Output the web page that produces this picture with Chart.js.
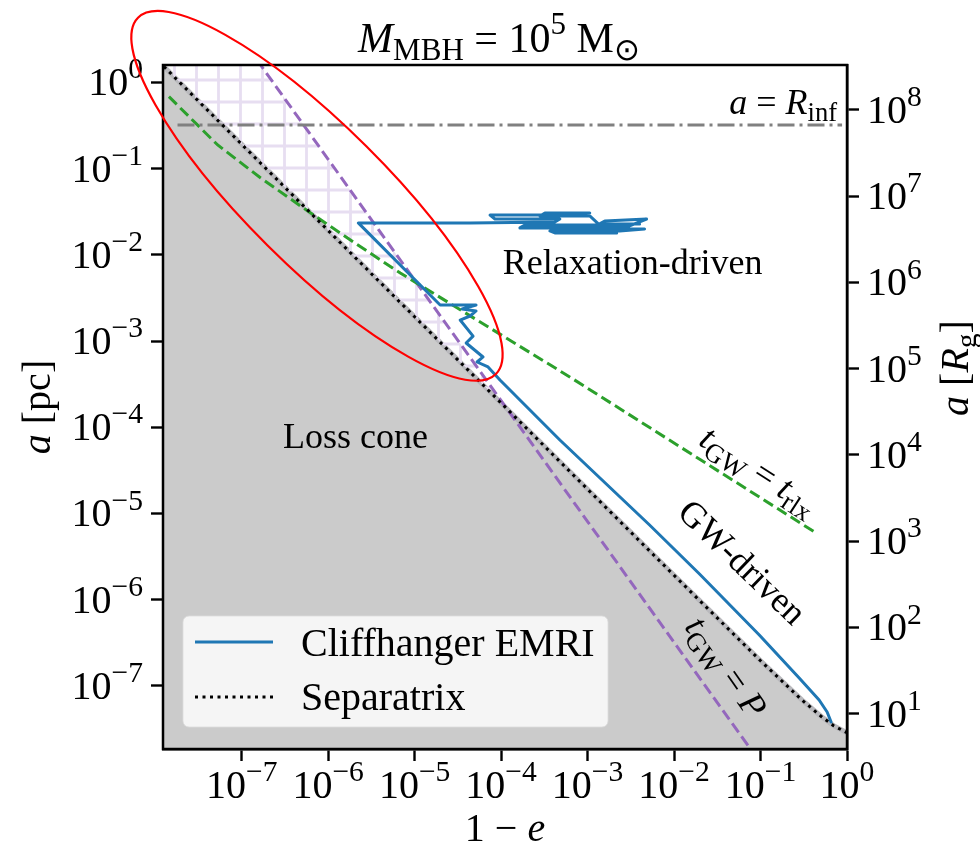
<!DOCTYPE html>
<html>
<head>
<meta charset="utf-8">
<script src="https://cdn.jsdelivr.net/npm/chart.js@4.4.1/dist/chart.umd.min.js"></script>
<style>
html, body { margin: 0; padding: 0; background: #fff; }
</style>
</head>
<body>
<canvas id="myChart" width="980" height="850"></canvas>
<script>
// ---- data (x = 1-e, y = a in pc) ----
const sepE = [1.26e-8, 1e-7, 1e-6, 1e-5, 1e-4, 1e-3, 1e-2, 0.1, 0.3, 0.5, 0.7, 1.0];
const sepA = [1.52, 0.191, 0.0191, 1.91e-3, 1.91e-4, 1.91e-5, 1.92e-6, 1.96e-7, 6.9e-8, 4.46e-8, 3.46e-8, 2.87e-8];

const tgwPE = [1.26e-8, 1e-7, 1e-6, 1e-5, 1e-4, 1e-3, 1e-2, 0.1];
const tgwPA = [58.5, 3.21, 0.128, 5.09e-3, 2.03e-4, 8.07e-6, 3.21e-7, 1.28e-8];

const tgwRE = [1.44e-8, 5.28e-8, 1.66e-7, 4.79e-7, 1.81e-6, 6.82e-6, 6.22e-4, 0.44];
const tgwRA = [0.681, 0.1875, 0.0777, 0.0368, 0.0148, 6.15e-3, 3.83e-4, 5.94e-6];

const rinfE = [1.81e-8, 0.877];
const rinfA = [0.32, 0.32];

const emriE = [4.00e-3, 1.38e-3, 1.58e-3, 4.81e-3, 3.06e-3, 4.78e-4, 5.46e-4, 4.56e-3, 2.35e-3, 3.66e-4,
               4.18e-4, 2.17e-3, 1.06e-3, 1.65e-4, 1.88e-4, 1.38e-3, 1.06e-3, 2.81e-4, 3.21e-4, 1.06e-3,
               4.78e-4, 7.45e-5, 8.49e-5, 4.78e-4, 4.18e-4, 4.38e-5, 2.23e-6, 1.97e-5,
               5.13e-5, 3.54e-5, 5.13e-5, 4.38e-5, 3.36e-5, 4.74e-5, 3.94e-5, 6.18e-5, 5.27e-5, 7.06e-5,
               9.70e-5, 4.78e-4, 5.21e-3, 0.0197, 0.0968, 0.280, 0.476, 0.589, 0.655];
const emriA = [0.0228, 0.0228, 0.0246, 0.0260, 0.0216, 0.0216, 0.0199, 0.0199, 0.0189, 0.0189,
               0.0179, 0.0179, 0.0205, 0.0205, 0.0221, 0.0221, 0.0282, 0.0282, 0.0305, 0.0305,
               0.0289, 0.0289, 0.0260, 0.0260, 0.0240, 0.0234, 0.0234, 2.62e-3,
               2.62e-3, 2.35e-3, 2.23e-3, 1.95e-3, 1.75e-3, 1.14e-3, 9.48e-4, 6.53e-4, 5.71e-4, 5.00e-4,
               3.53e-4, 7.11e-5, 7.36e-6, 1.99e-6, 3.90e-7, 1.24e-7, 6.88e-8, 4.99e-8, 3.82e-8];

const xTicks = [1e-7, 1e-6, 1e-5, 1e-4, 1e-3, 1e-2, 1e-1, 1e0];
const xTickExp = ['−7', '−6', '−5', '−4', '−3', '−2', '−1', '0'];
const yTicks = [1e-7, 1e-6, 1e-5, 1e-4, 1e-3, 1e-2, 1e-1, 1e0];
const yTickExp = ['−7', '−6', '−5', '−4', '−3', '−2', '−1', '0'];
const y2Ticks = [1e1, 1e2, 1e3, 1e4, 1e5, 1e6, 1e7, 1e8];
const y2TickExp = ['1', '2', '3', '4', '5', '6', '7', '8'];

const xMin = 1.23e-8, xMax = 1.0;
const yMin = 1.858e-8, yMax = 1.587;
const pcToRg = 2.094e8;

// ---- helpers ----
const FONT = '"Liberation Serif", "Times New Roman", serif';
const SMALL = 0.74;
function font(size, it) { return (it ? 'italic ' : '') + size + 'px ' + FONT; }
function partsWidth(c, parts, size) {
    let w = 0;
    parts.forEach(p => {
        c.font = font((p.sub || p.sup) ? size * SMALL : size, p.it);
        w += c.measureText(p.t).width;
    });
    return w;
}
function drawParts(c, parts, size, x, y, align) {
    const w = partsWidth(c, parts, size);
    let cx = align === 'center' ? x - w / 2 : (align === 'right' ? x - w : x);
    c.textAlign = 'left';
    c.textBaseline = 'alphabetic';
    parts.forEach(p => {
        const s = (p.sub || p.sup) ? size * SMALL : size;
        const dy = p.sub ? size * 0.2 : (p.sup ? -size * 0.42 : 0);
        c.font = font(s, p.it);
        c.fillText(p.t, cx, y + dy);
        cx += c.measureText(p.t).width;
    });
}

// hatch pattern for the region between separatrix and t_GW = P
const tile = document.createElement('canvas');
tile.width = 22; tile.height = 22;
const tc = tile.getContext('2d');
tc.strokeStyle = 'rgb(231,222,241)';
tc.lineWidth = 2.8;
tc.beginPath();
tc.moveTo(20.5, 0); tc.lineTo(20.5, 22);
tc.moveTo(0, 14); tc.lineTo(22, 14);
tc.stroke();
const hatch = tc.createPattern(tile, 'repeat');

const notes = [
    {x: 3.32e-3, y: 8.25e-3, rot: 0, align: 'center', parts: [{t: 'Relaxation-driven'}]},
    {x: 2.07e-6, y: 7.94e-5, rot: 0, align: 'center', parts: [{t: 'Loss cone'}]},
    {x: 0.77, y: 0.591, rot: 0, align: 'right', parts: [{t: 'a', it: 1}, {t: ' = '}, {t: 'R', it: 1}, {t: 'inf', sub: 1}]},
    {x: 0.0968, y: 3.19e-5, rot: 33, align: 'center', parts: [{t: 't', it: 1}, {t: 'GW', sub: 1}, {t: ' = '}, {t: 't', it: 1}, {t: 'rlx', sub: 1}]},
    {x: 0.062, y: 2.74e-6, rot: 44, align: 'center', parts: [{t: 'GW-driven'}]},
    {x: 0.0403, y: 1.66e-7, rot: 55, align: 'center', parts: [{t: 't', it: 1}, {t: 'GW', sub: 1}, {t: ' = '}, {t: 'P', it: 1}]}
];

// highlight ellipse: major-axis tips in data coords
const ringE = [6.32e-9, 8.71e-5];
const ringA = [5.6, 4.15e-4];

const pts = (xs, ys) => xs.map((v, i) => ({x: v, y: ys[i]}));

const decor = {
    id: 'decor',
    afterDraw(chart) {
        const c = chart.ctx;
        const ca = chart.chartArea;
        const sx = chart.scales.x, sy = chart.scales.y, sy2 = chart.scales.y2;
        c.save();
        c.fillStyle = '#000';

        // frame
        c.strokeStyle = '#000';
        c.lineWidth = 2.5;
        c.strokeRect(ca.left, ca.top, ca.right - ca.left, ca.bottom - ca.top);

        // tick labels
        xTicks.forEach((v, i) => {
            drawParts(c, [{t: '10'}, {t: xTickExp[i], sup: 1}], 40, sx.getPixelForValue(v), ca.bottom + 49, 'center');
        });
        yTicks.forEach((v, i) => {
            drawParts(c, [{t: '10'}, {t: yTickExp[i], sup: 1}], 40, ca.left - 20, sy.getPixelForValue(v) + 13, 'right');
        });
        y2Ticks.forEach((v, i) => {
            drawParts(c, [{t: '10'}, {t: y2TickExp[i], sup: 1}], 40, ca.right + 20, sy2.getPixelForValue(v) + 13, 'left');
        });

        // axis labels
        drawParts(c, [{t: '1 − '}, {t: 'e', it: 1}], 40, (ca.left + ca.right) / 2, ca.bottom + 92, 'center');
        c.save();
        c.translate(50, (ca.top + ca.bottom) / 2);
        c.rotate(-Math.PI / 2);
        drawParts(c, [{t: 'a', it: 1}, {t: ' [pc]'}], 40, 0, 0, 'center');
        c.restore();
        c.save();
        c.translate(968, 368);
        c.rotate(-Math.PI / 2);
        drawParts(c, [{t: 'a', it: 1}, {t: ' ['}, {t: 'R', it: 1}, {t: 'g', sub: 1}, {t: ']'}], 40, 0, 0, 'center');
        c.restore();

        // title
        drawParts(c, [{t: 'M', it: 1}, {t: 'MBH', sub: 1}, {t: ' = 10'}, {t: '5', sup: 1}, {t: ' M'}, {t: '⊙', sub: 1}],
            42, 499, 52, 'center');

        // in-plot annotations
        notes.forEach(n => {
            c.save();
            c.translate(sx.getPixelForValue(n.x), sy.getPixelForValue(n.y));
            c.rotate(n.rot * Math.PI / 180);
            drawParts(c, n.parts, 36, 0, 12, n.align);
            c.restore();
        });

        // legend
        const lx = ca.left + 20, ly = ca.bottom - 133, lw = 425, lh = 111;
        c.fillStyle = 'rgba(255,255,255,0.8)';
        c.strokeStyle = 'rgba(220,220,220,0.8)';
        c.lineWidth = 1;
        c.beginPath();
        c.roundRect(lx, ly, lw, lh, 6);
        c.fill();
        c.stroke();
        c.strokeStyle = '#1f77b4';
        c.lineWidth = 3;
        c.beginPath();
        c.moveTo(lx + 12, ly + 26); c.lineTo(lx + 90, ly + 26);
        c.stroke();
        c.strokeStyle = '#000';
        c.setLineDash([3, 4.5]);
        c.beginPath();
        c.moveTo(lx + 12, ly + 81); c.lineTo(lx + 90, ly + 81);
        c.stroke();
        c.setLineDash([]);
        c.fillStyle = '#000';
        drawParts(c, [{t: 'Cliffhanger EMRI'}], 40, lx + 118, ly + 40, 'left');
        drawParts(c, [{t: 'Separatrix'}], 40, lx + 118, ly + 94, 'left');

        // highlight ellipse
        const x1 = sx.getPixelForValue(ringE[0]), y1 = sy.getPixelForValue(ringA[0]);
        const x2 = sx.getPixelForValue(ringE[1]), y2 = sy.getPixelForValue(ringA[1]);
        c.strokeStyle = '#ff0000';
        c.lineWidth = 2.2;
        c.beginPath();
        c.ellipse((x1 + x2) / 2, (y1 + y2) / 2, Math.hypot(x2 - x1, y2 - y1) / 2, 70, Math.atan2(y2 - y1, x2 - x1), 0, 2 * Math.PI);
        c.stroke();
        c.restore();
    }
};

const logAxis = (pos, min, max, ticks, w, h) => ({
    type: 'logarithmic',
    position: pos,
    min: min,
    max: max,
    afterBuildTicks: s => { s.ticks = ticks.map(v => ({value: v})); },
    afterFit: s => { if (w) s.width = w; if (h) s.height = h; },
    ticks: {display: false},
    grid: {drawOnChartArea: false, drawTicks: true, tickLength: 12, tickWidth: 2.4, tickColor: '#000'},
    border: {display: true, color: '#000', width: 2.5}
});

let ctx = document.getElementById('myChart');

var myChart = new Chart(ctx, {
    type: 'scatter',
    data: {
        datasets: [
            {
                label: 'Loss cone',
                data: pts(sepE, sepA),
                showLine: true,
                borderColor: '#b9b9bd',
                borderWidth: 5,
                pointRadius: 0,
                backgroundColor: '#cbcbcb',
                fill: 'start',
                order: 10
            },
            {
                label: 't_GW = P',
                data: pts(tgwPE, tgwPA),
                showLine: true,
                borderColor: '#9467bd',
                borderWidth: 3,
                borderDash: [11, 5],
                pointRadius: 0,
                fill: {target: 0, above: hatch, below: 'rgba(0,0,0,0)'},
                order: 8
            },
            {
                label: 't_GW = t_rlx',
                data: pts(tgwRE, tgwRA),
                showLine: true,
                borderColor: '#2ca02c',
                borderWidth: 3,
                borderDash: [11, 5],
                pointRadius: 0,
                fill: false,
                order: 6
            },
            {
                label: 'a = R_inf',
                data: pts(rinfE, rinfA),
                showLine: true,
                borderColor: '#808080',
                borderWidth: 3,
                borderDash: [17, 5, 3, 5],
                pointRadius: 0,
                fill: false,
                order: 5
            },
            {
                label: 'Separatrix',
                data: pts(sepE, sepA),
                showLine: true,
                borderColor: '#000',
                borderWidth: 3,
                borderDash: [3, 4.5],
                pointRadius: 0,
                fill: false,
                order: 3
            },
            {
                label: 'Cliffhanger EMRI',
                data: pts(emriE, emriA),
                showLine: true,
                borderColor: '#1f77b4',
                borderWidth: 3,
                borderJoinStyle: 'round',
                borderCapStyle: 'round',
                pointRadius: 0,
                fill: false,
                order: 1
            }
        ]
    },
    options: {
        responsive: false,
        animation: false,
        devicePixelRatio: 1,
        events: [],
        layout: {padding: {top: 65, left: 0, right: 0, bottom: 0}},
        plugins: {legend: {display: false}, tooltip: {enabled: false}},
        scales: {
            x: logAxis('bottom', xMin, xMax, xTicks, 0, 101),
            y: logAxis('left', yMin, yMax, yTicks, 163, 0),
            y2: logAxis('right', yMin * pcToRg, yMax * pcToRg, y2Ticks, 133, 0)
        }
    },
    plugins: [decor]
});
</script>
</body>
</html>
